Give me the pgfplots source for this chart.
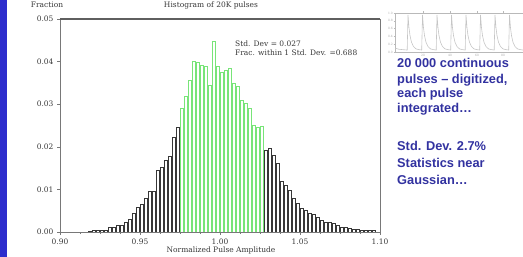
\documentclass[border=0pt]{standalone}
\usepackage{fontspec}
\setmainfont{DejaVu Serif}
\newfontfamily\slidefont{Liberation Sans}
\usepackage{pgfplots}
\pgfplotsset{compat=1.18}
\definecolor{slideblue}{RGB}{45,45,205}
\definecolor{txtblue}{RGB}{50,50,160}
\definecolor{hgreen}{RGB}{120,228,120}
\definecolor{hdark}{RGB}{55,55,55}
\definecolor{axgray}{RGB}{120,120,120}
\begin{document}
\begin{tikzpicture}
\useasboundingbox (0pt,0pt) rectangle (523pt,257pt);
\fill[slideblue] (0pt,0pt) rectangle (6.5pt,257pt);
\begin{axis}[
  at={(60pt,25pt)}, anchor=south west, scale only axis,
  width=320pt, height=213pt,
  xmin=0.9, xmax=1.1, ymin=0, ymax=0.05,
  axis line style={draw=axgray, line width=0.7pt},
  xtick={0.90,0.95,1.00,1.05,1.10},
  minor x tick num=3,
  ytick={0,0.01,0.02,0.03,0.04,0.05},
  tick pos=left, tick align=outside,
  major tick length=3pt, minor tick length=2pt,
  tick style={draw=axgray, line width=0.5pt},
  scaled x ticks=false, scaled y ticks=false,
  ticklabel style={font=\fontsize{7.5}{9}\selectfont, text=hdark},
  /pgf/number format/.cd, fixed, fixed zerofill, precision=2, assume math mode=true,
]
\addplot[ybar, bar width=0.0021, bar shift=0pt, draw=hdark, fill=white, line width=0.5pt] coordinates {
(0.91875,0.0002) (0.92125,0.0003) (0.92375,0.0003) (0.92625,0.0005) (0.92875,0.0003)
(0.93125,0.0012) (0.93375,0.0010) (0.93625,0.0016) (0.93875,0.0017) (0.94125,0.0024)
(0.94375,0.0030) (0.94625,0.0045) (0.94875,0.0059) (0.95125,0.0066) (0.95375,0.0080)
(0.95625,0.0095) (0.95875,0.0095) (0.96125,0.0146) (0.96375,0.0153) (0.96625,0.0169)
(0.96875,0.0177) (0.97125,0.0223) (0.97375,0.0247)
};
\addplot[ybar, bar width=0.0021, bar shift=0pt, draw=hgreen, fill=white, line width=0.5pt] coordinates {
(0.97625,0.0290) (0.97875,0.0318) (0.98125,0.0357) (0.98375,0.0401) (0.98625,0.0398)
(0.98875,0.0392) (0.99125,0.0390) (0.99375,0.0345) (0.99625,0.0447) (0.99875,0.0390)
(1.00125,0.0376) (1.00375,0.0380) (1.00625,0.0385) (1.00875,0.0350) (1.01125,0.0342)
(1.01375,0.0310) (1.01625,0.0303) (1.01875,0.0290) (1.02125,0.0251) (1.02375,0.0247)
(1.02625,0.0249)
};
\addplot[ybar, bar width=0.0021, bar shift=0pt, draw=hdark, fill=white, line width=0.5pt] coordinates {
(1.02875,0.0192) (1.03125,0.0197) (1.03375,0.0180) (1.03625,0.0162) (1.03875,0.0118)
(1.04125,0.0110) (1.04375,0.0099) (1.04625,0.0080) (1.04875,0.0068) (1.05125,0.0056)
(1.05375,0.0052) (1.05625,0.0044) (1.05875,0.0041) (1.06125,0.0035) (1.06375,0.0028)
(1.06625,0.0022) (1.06875,0.0022) (1.07125,0.0020) (1.07375,0.0016) (1.07625,0.0012)
(1.07875,0.0011) (1.08125,0.0009) (1.08375,0.0007) (1.08625,0.0006) (1.08875,0.0005)
(1.09125,0.0004) (1.09375,0.0005) (1.09625,0.0003)
};
\draw[line width=1.6pt, draw=hdark!80] (rel axis cs:0,1) -- (rel axis cs:1,1);
\end{axis}
\begin{axis}[
  at={(395pt,205pt)}, anchor=south west, scale only axis,
  width=128pt, height=39pt,
  xmin=0, xmax=128, ymin=0, ymax=1,
  axis x line=box, axis y line=left,
  axis line style={draw=gray!55, line width=0.5pt, -},
  xtick={28,55,82,108}, xticklabels={20,40,60,80},
  ytick={0,0.2,0.4,0.6,0.8,1},
  yticklabels={0.0,0.2,0.4,0.6,0.8,1.0},
  tick align=outside, major tick length=1.5pt,
  tick style={draw=gray!55, line width=0.4pt},
  ticklabel style={font=\fontsize{3}{3}\selectfont, text=gray!70, inner sep=0.5pt},
  /pgf/number format/assume math mode=true,
]
\addplot[gray!45, line width=0.6pt] coordinates {
(0,0.10) (4,0.07) (8,0.06) (12.2,0.05)
(13,0.95) (14,0.62) (15,0.42) (16.5,0.25) (18.5,0.14) (21,0.08) (24,0.06) (26.7,0.05)
(27.5,0.95) (28.5,0.62) (29.5,0.42) (31,0.25) (33,0.14) (35.5,0.08) (38.5,0.06) (41.2,0.05)
(42,0.95) (43,0.62) (44,0.42) (45.5,0.25) (47.5,0.14) (50,0.08) (53,0.06) (55.7,0.05)
(56.5,0.95) (57.5,0.62) (58.5,0.42) (60,0.25) (62,0.14) (64.5,0.08) (67.5,0.06) (70.2,0.05)
(71,0.95) (72,0.62) (73,0.42) (74.5,0.25) (76.5,0.14) (79,0.08) (82,0.06) (84.7,0.05)
(85.5,0.95) (86.5,0.62) (87.5,0.42) (89,0.25) (91,0.14) (93.5,0.08) (96.5,0.06) (99.2,0.05)
(100,0.95) (101,0.62) (102,0.42) (103.5,0.25) (105.5,0.14) (108,0.08) (111,0.06) (113.7,0.05)
(114.5,0.95) (115.5,0.62) (116.5,0.42) (118,0.25) (120,0.14) (122.5,0.08) (125.5,0.06) (128,0.05)
};
\end{axis}
\begin{scope}[every node/.style={inner sep=0pt, font=\fontsize{7.5}{9}\selectfont, text=hdark}]
\node[anchor=base] at (47pt,249pt) {Fraction};
\node[anchor=base] at (211pt,249pt) {Histogram of 20K pulses};
\node[anchor=base] at (221pt,4pt) {Normalized Pulse Amplitude};
\node[anchor=base west] at (235pt,210pt) {Std. Dev = 0.027};
\node[anchor=base west] at (235pt,201pt) {Frac. within 1 Std. Dev. =0.688};
\end{scope}
\begin{scope}[every node/.style={inner sep=0pt, anchor=base west, text=txtblue, font=\slidefont\bfseries\fontsize{12.8}{15}\selectfont}]
\node at (397pt,189pt) {20 000 continuous};
\node at (397pt,173pt) {pulses – digitized,};
\node at (397pt,159pt) {each pulse};
\node at (397pt,144pt) {integrated…};
\node at (397pt,106pt) {Std. Dev. 2.7\%};
\node at (397pt,89pt) {Statistics near};
\node at (397pt,72pt) {Gaussian…};
\end{scope}
\end{tikzpicture}
\end{document}
